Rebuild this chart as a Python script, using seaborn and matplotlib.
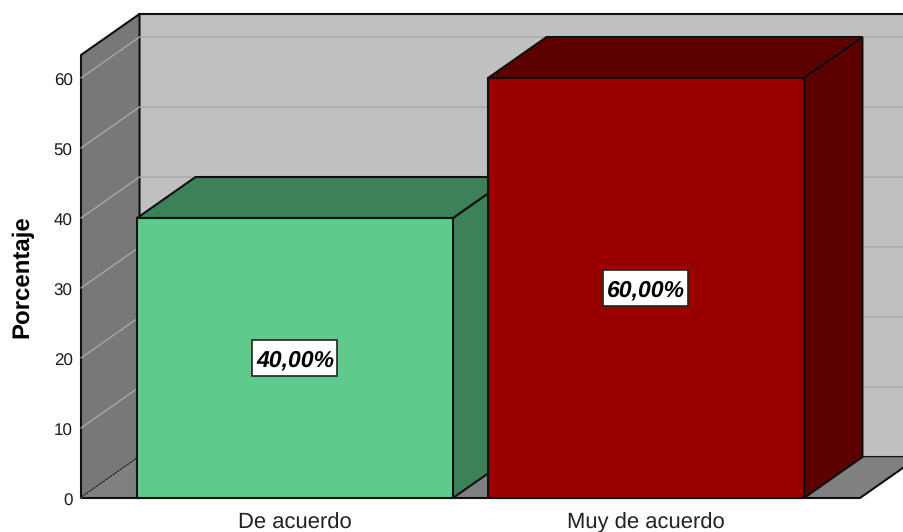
import matplotlib

matplotlib.use("Agg")
import matplotlib.pyplot as plt
import matplotlib.transforms as mtransforms
import pandas as pd
import seaborn as sns
from matplotlib.patches import Polygon, Rectangle

categories = ["De acuerdo", "Muy de acuerdo"]
percentages = [40.0, 60.0]
value_labels = ["40,00%", "60,00%"]
y_ticks = [0, 10, 20, 30, 40, 50, 60]

FRONT_COLORS = ["#5ECB8C", "#990000"]
DARK_COLORS = ["#3C8158", "#5C0000"]
EDGE = "#101010"

# pixel layout of the front plane, the figure is 904x532
LEFT, RIGHT, BOTTOM, TOP = 81, 904, 498, 55
PX_PER_CAT = 351
PX_PER_PCT = 7
X0_PIXEL = 295
DX = 58.5 / PX_PER_CAT
DY = 41 / PX_PER_PCT
BOX_W = 85 / PX_PER_CAT
BOX_H = 36 / PX_PER_PCT

sns.set_theme(style="white")
plt.rcParams["font.family"] = ["Liberation Sans", "DejaVu Sans"]
plt.rcParams["text.hinting"] = "no_hinting"
plt.rcParams["text.hinting_factor"] = 1

df = pd.DataFrame({"categoria": categories, "porcentaje": percentages})

fig = plt.figure(figsize=(9.04, 5.32), dpi=100)
ax = fig.add_axes([LEFT / 904, (532 - BOTTOM) / 532, (RIGHT - LEFT) / 904, (BOTTOM - TOP) / 532])
ax.patch.set_visible(False)

sns.barplot(
    data=df, x="categoria", y="porcentaje", hue="categoria", palette=FRONT_COLORS,
    width=0.9, saturation=1, edgecolor=EDGE, linewidth=1.5, legend=False, ax=ax,
)

xmin = (LEFT - X0_PIXEL) / PX_PER_CAT
xmax = (RIGHT - X0_PIXEL) / PX_PER_CAT
ymax = (BOTTOM - TOP) / PX_PER_PCT
floor_end = (860 - X0_PIXEL) / PX_PER_CAT
ax.set_xlim(xmin, xmax)
ax.set_ylim(0, ymax)


def add_poly(points, color, zorder, edge=EDGE, lw=1.5):
    ax.add_patch(Polygon(points, closed=True, facecolor=color, edgecolor=edge,
                         linewidth=lw, clip_on=False, zorder=zorder))


# walls and floor
add_poly([(xmin + DX, DY), (xmax + 0.2, DY), (xmax + 0.2, ymax + DY), (xmin + DX, ymax + DY)], "#C0C0C0", 0.5)
add_poly([(xmin, 0), (xmin, ymax), (xmin + DX, ymax + DY), (xmin + DX, DY)], "#787878", 0.6)
add_poly([(xmin, 0), (floor_end, 0), (floor_end + DX, DY), (xmin + DX, DY)], "#808080", 0.7, edge="none", lw=0)
ax.plot([xmin, floor_end, floor_end + DX], [0, 0, DY], color=EDGE, lw=1.5, clip_on=False, zorder=0.8)
ax.plot([xmin + DX, xmax], [DY, DY], color="#6a6a6a", lw=0.8, clip_on=False, zorder=0.8)
ax.plot([xmin, xmin + DX], [0, DY], color="#a0a0a0", lw=0.8, ls=":", clip_on=False, zorder=0.8)

# gridlines run along the side wall and then the back wall
for tick in y_ticks[1:]:
    ax.plot([xmin, xmin + DX, xmax], [tick, tick + DY, tick + DY], color="#a8a8a8", lw=1.0,
            clip_on=False, zorder=0.9)

# depth faces built from the bars seaborn drew
bars = [bar for container in ax.containers for bar in container]
for i, bar in enumerate(bars):
    x0, x1 = bar.get_x(), bar.get_x() + bar.get_width()
    xc = (x0 + x1) / 2
    h = bar.get_height()
    base_z = 2 + i * 2
    add_poly([(x1, 0), (x1 + DX, DY), (x1 + DX, h + DY), (x1, h)], DARK_COLORS[i], base_z)
    add_poly([(x0, h), (x0 + DX, h + DY), (x1 + DX, h + DY), (x1, h)], DARK_COLORS[i], base_z)
    bar.set_zorder(base_z + 1)
    bar.set_clip_on(False)
    ax.add_patch(Rectangle((xc - BOX_W / 2, h / 2 - BOX_H / 2), BOX_W, BOX_H, facecolor="white",
                           edgecolor="#222222", linewidth=1.2, zorder=9))
    ax.text(xc, h / 2, value_labels[i], ha="center", va="center_baseline",
            fontsize=16.6, fontweight="bold", fontstyle="italic", color="black", zorder=10)

sns.despine(ax=ax, left=True, bottom=True)
ax.set_yticks(y_ticks)
ax.tick_params(axis="y", length=0, pad=6, labelsize=12, labelcolor="#1a1a1a")
ax.tick_params(axis="x", length=0, pad=10.5, labelsize=16.2, labelcolor="#222222")
ax.set_xlabel("")

# tick numbers sit a little under their gridline
shift = mtransforms.ScaledTranslation(0, -2 / 100, fig.dpi_scale_trans)
for label in ax.get_yticklabels():
    label.set_transform(label.get_transform() + shift)

ax.set_ylabel("Porcentaje", fontsize=17, fontweight="bold", color="black", va="center")
ax.yaxis.set_label_coords((22 - LEFT) / (RIGHT - LEFT), (BOTTOM - 277) / (BOTTOM - TOP))

fig.savefig("out.png", dpi=100, facecolor="white")
